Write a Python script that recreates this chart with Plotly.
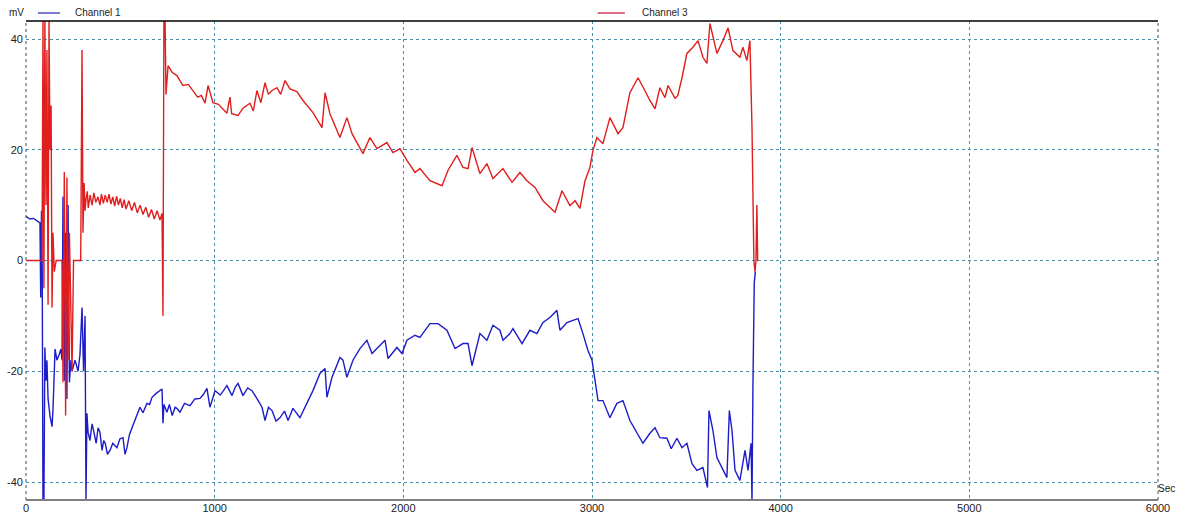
import plotly.graph_objects as go

# ---- data (seconds, mV) ----
ch1_t = [0, 20, 40, 60, 74, 78, 82, 86, 90, 95, 100, 106, 111, 117, 127, 138, 143, 154, 164, 175, 185, 191,
         196, 203, 210, 217, 223, 230, 238, 244, 252, 260, 276, 286, 297, 305, 313, 318, 323, 329, 339, 350,
         360, 372, 382, 392, 403, 412, 420, 432, 445, 460, 482, 498, 514, 525, 535, 548, 562, 575, 590, 604,
         620, 641, 655, 668, 690, 710, 721, 726, 731, 747, 760, 775, 790, 800,
         816, 840, 869, 895, 922, 940, 959, 975, 1002, 1030, 1065, 1092, 1110, 1124, 1150, 1175, 1198, 1225,
         1251, 1267, 1285, 1304, 1325, 1346, 1370, 1389, 1415,
         1452, 1489, 1521, 1558, 1585, 1595, 1622, 1664, 1680, 1701, 1733, 1770, 1807, 1834, 1866, 1903,
         1919, 1966, 1993, 2019, 2062, 2088, 2141, 2184, 2231, 2274, 2316, 2343, 2364, 2390, 2406, 2443,
         2475, 2512, 2528, 2565, 2581, 2629, 2671, 2708, 2740, 2777, 2814, 2830, 2867, 2899, 2926, 2952,
         2979, 3000, 3016, 3032, 3058, 3095, 3132, 3164, 3201, 3238, 3270, 3307, 3334, 3360, 3397, 3420, 3450,
         3477, 3503, 3530, 3556, 3588, 3612, 3620, 3641, 3662, 3694, 3715, 3728, 3742, 3758, 3784, 3811,
         3827, 3843, 3848, 3853, 3860, 3866]
ch1_v = [8.0, 7.5, 7.6, 7.2, 6.8, -6.7, 9.0, -2, -43.5, -43.5, -15.7, -21.7, -18, -25, -28, -30, -27, -16, -18,
         -17, -16, -18, 11.5, -21.7, 5, -25, 10, -22, -18, -20, -19, -18, -20, -17, -8.5, -20, -10, -43.5, -27.6,
         -31, -32.5, -29.5, -31, -33, -30.2, -31, -34.3, -32.5, -33, -35, -34.3, -33, -33.8, -32.2, -32, -35,
         -33.8, -31.5, -30.2, -29, -28, -26.5, -27.5, -25.8, -26, -24.7, -24, -23.5, -23.2, -29.4, -26, -27.4,
         -26, -28, -26.5, -26.7, -27.4, -25.8, -26.2, -25, -24.9, -24.2, -23.1, -26.5, -23.5, -24.3, -22.6,
         -24.4, -22.8, -22.2, -24.4, -23, -23.5, -25, -26.5, -28.9, -26.5, -27.1, -29, -28.4, -27.2, -28.9,
         -26.7, -28.4, -25.8, -23.5, -20.4, -19.5, -24.7,
         -21.1, -17.5, -18, -21.1, -18, -15.9, -14.4, -16.8, -15.7, -14.4, -17.7, -15.7, -16.8, -14.4, -13.5,
         -13.9, -11.4, -11.4, -12.6, -15.9, -15, -15, -19, -15.7, -13.2, -14.4, -11.7, -12.6, -14.4, -13.2,
         -12.3, -15, -12.6, -13.2, -11.2, -10.3, -9, -12.6, -11.2, -10.8, -10.5, -13.2, -16.3, -18, -21.7,
         -25.3, -25.3, -28.4, -25.8, -25.3, -28.9, -31.2, -33, -31.2, -30.2, -32, -32.1, -34, -32.1, -33.8, -33,
         -36.7, -37.9, -37.4, -41, -27.1, -30.7, -35.6, -37.9, -39.2, -27.1, -30.7, -37.9, -39.7, -34.3, -37.9,
         -33, -43.5, -22.9, -4, -2]

ch3_t = [0, 40, 74, 85, 90, 95, 100, 106, 111, 117, 122, 127, 133, 138, 143, 150, 160, 175, 191, 196, 203,
         210, 217, 223, 230, 244, 252, 276, 290, 297, 302, 308, 313, 318, 325, 330, 340, 350, 360, 370, 382,
         392, 400, 410, 420, 430, 440, 450, 460, 470, 480, 490, 500, 510, 520, 530, 545, 560, 575, 590, 605,
         620, 635, 650, 665, 680, 695, 710, 721, 726, 731, 737, 742, 753, 774, 800, 832, 860, 885, 910, 930,
         949, 965, 991, 1020, 1044, 1065, 1081, 1090, 1124, 1150, 1187, 1205, 1224, 1245, 1267, 1285, 1304,
         1330, 1350, 1373, 1399, 1436, 1468, 1521, 1569, 1585, 1611, 1664,
         1701, 1728, 1786, 1823, 1860, 1913, 1945, 1982, 2019, 2062, 2088, 2141, 2205, 2237, 2284, 2316, 2343,
         2364, 2406, 2443, 2475, 2528, 2576, 2618, 2655, 2698, 2740, 2804, 2841, 2883, 2910, 2936, 2963, 2989,
         3005, 3026, 3058, 3095, 3138, 3164, 3201, 3244, 3280, 3307, 3334, 3360, 3387, 3403, 3440, 3455, 3477,
         3503, 3535, 3562, 3588, 3609, 3625, 3662, 3694, 3721, 3747, 3784, 3800, 3821, 3837, 3848, 3858, 3864,
         3869, 3874, 3878, 3882]
ch3_v = [0, 0, 0, 0, 43.5, -5, 43.5, 10, 38, -8, 43.5, 20, 28, -8.5, 5, -2, 0, 0, 0, -22, 16, -28, 15, -18, 5,
         -20, 0, 0, 0, 38, 5, 14, 9, 11, 12.5, 9.5, 11.8, 10, 12.2, 10.5, 11.5, 10, 12, 10.3, 11.8, 10.5, 12,
         10.2, 11.5, 9.8, 11.6, 10, 11.2, 9.5, 11, 9.3, 10.8, 9, 10.5, 8.6, 10, 8.3, 9.6, 7.8, 9.2, 7.5, 9, 7.3,
         8.5, -10, 43.5, 43.5, 30, 35.2, 34, 33.4, 31.6, 31.8, 30.7, 29.5, 29.8, 28.4, 31.6, 28.5, 28.2, 27.4,
         26.6, 29.5, 26.5, 26.2, 27.5, 28.4, 27, 30.7, 28.5, 32.1, 30, 30.7, 31.2, 30, 32.5, 31, 30.5, 28.9,
         26.7, 24, 30.3, 26.5, 22.2, 25.8, 22.9, 19.3, 22.2, 20.2, 21.3, 19.5,
         20.2, 18.1, 15.9, 16.6, 14.4, 13.5, 16.3, 19, 16.8, 16.6, 20.4, 15.7, 17.5, 14.8, 16.6, 14.1, 15.9,
         14.4, 13.2, 10.8, 8.7, 12.6, 9.9, 10.8, 9.4, 14.4, 16.8, 19.9, 22.2, 21.1, 25.8, 22.9, 24, 30.3, 33,
         30.7, 28.9, 27.4, 31.2, 29.4, 31.6, 29.3, 29.8, 33, 37.4, 38.5, 39.7, 36.7, 35.6, 42.8, 37.4, 39.7, 42,
         37.9, 36.7, 38.5, 36.1, 39.7, 24, 0, -2, 0, 10, 0, 0]

x_ticks = [0, 1000, 2000, 3000, 4000, 5000, 6000]
y_ticks = [-40, -20, 0, 20, 40]

BLUE = "#1c1cc8"
RED = "#e01e1e"
GRID = "#4a90a8"
FONT = "Liberation Sans, Arial, sans-serif"

fig = go.Figure()
fig.add_trace(go.Scatter(x=ch1_t, y=ch1_v, mode="lines", name="Channel 1",
                         line=dict(color=BLUE, width=1.4), showlegend=False))
fig.add_trace(go.Scatter(x=ch3_t, y=ch3_v, mode="lines", name="Channel 3",
                         line=dict(color=RED, width=1.4), showlegend=False))

fig.update_layout(
    width=1180, height=517,
    margin=dict(l=26, r=22, t=21, b=17, autoexpand=False),
    showlegend=False,
    paper_bgcolor="white", plot_bgcolor="white",
    font=dict(family=FONT, size=11, color="#222"),
    xaxis=dict(range=[0, 6000], tickvals=x_ticks, ticktext=[str(v) for v in x_ticks], automargin=False,
               showgrid=True, gridcolor=GRID, griddash="3px,3px", gridwidth=1,
               zeroline=False, showline=False, ticks="", ticklabelstandoff=0,
               tickfont=dict(size=11, color="#222")),
    yaxis=dict(range=[-43.25, 43.25], tickvals=y_ticks, ticktext=[str(v) for v in y_ticks], automargin=False,
               showgrid=True, gridcolor=GRID, griddash="3px,3px", gridwidth=1,
               zeroline=False, showline=False, ticks="", ticklabelstandoff=2,
               tickfont=dict(size=11, color="#222")),
)

# frame: top black line, bottom grey axis line, dashed left/right edges
fig.add_shape(type="line", xref="paper", yref="paper", x0=0, x1=1, y0=1, y1=1,
              line=dict(color="black", width=1.5))
fig.add_shape(type="line", xref="paper", yref="paper", x0=0, x1=1, y0=0, y1=0,
              line=dict(color="#808080", width=2))
fig.add_shape(type="line", xref="paper", yref="paper", x0=0, x1=0, y0=0, y1=1,
              line=dict(color="#305060", width=1, dash="3px,3px"))
fig.add_shape(type="line", xref="paper", yref="paper", x0=1, x1=1, y0=0, y1=1,
              line=dict(color="#305060", width=1, dash="3px,3px"))

# legend drawn along the top
fig.add_shape(type="line", xref="paper", yref="paper", x0=0.0106, x1=0.030, y0=1.0167, y1=1.0167,
              line=dict(color="#5050c0", width=1.5))
fig.add_shape(type="line", xref="paper", yref="paper", x0=0.505, x1=0.529, y0=1.0167, y1=1.0167,
              line=dict(color="#d04060", width=1.5))
ann = dict(xref="paper", yref="paper", showarrow=False, font=dict(family=FONT, size=10, color="#222"),
           xanchor="left", yanchor="middle")
fig.add_annotation(text="mV", x=-0.0165, y=1.0175, **ann)
fig.add_annotation(text="Channel 1", x=0.0415, y=1.0175, **ann)
fig.add_annotation(text="Channel 3", x=0.5424, y=1.0175, **ann)
fig.add_annotation(text="Sec", x=1.0, y=0.024, xshift=-2, font=dict(family=FONT, size=10, color="#222"),
                   xref="paper", yref="paper", showarrow=False, xanchor="left", yanchor="middle")

fig.write_html("out.html", config={"displayModeBar": False},
               post_script="document.body.style.margin='0';document.body.style.overflow='hidden';")
